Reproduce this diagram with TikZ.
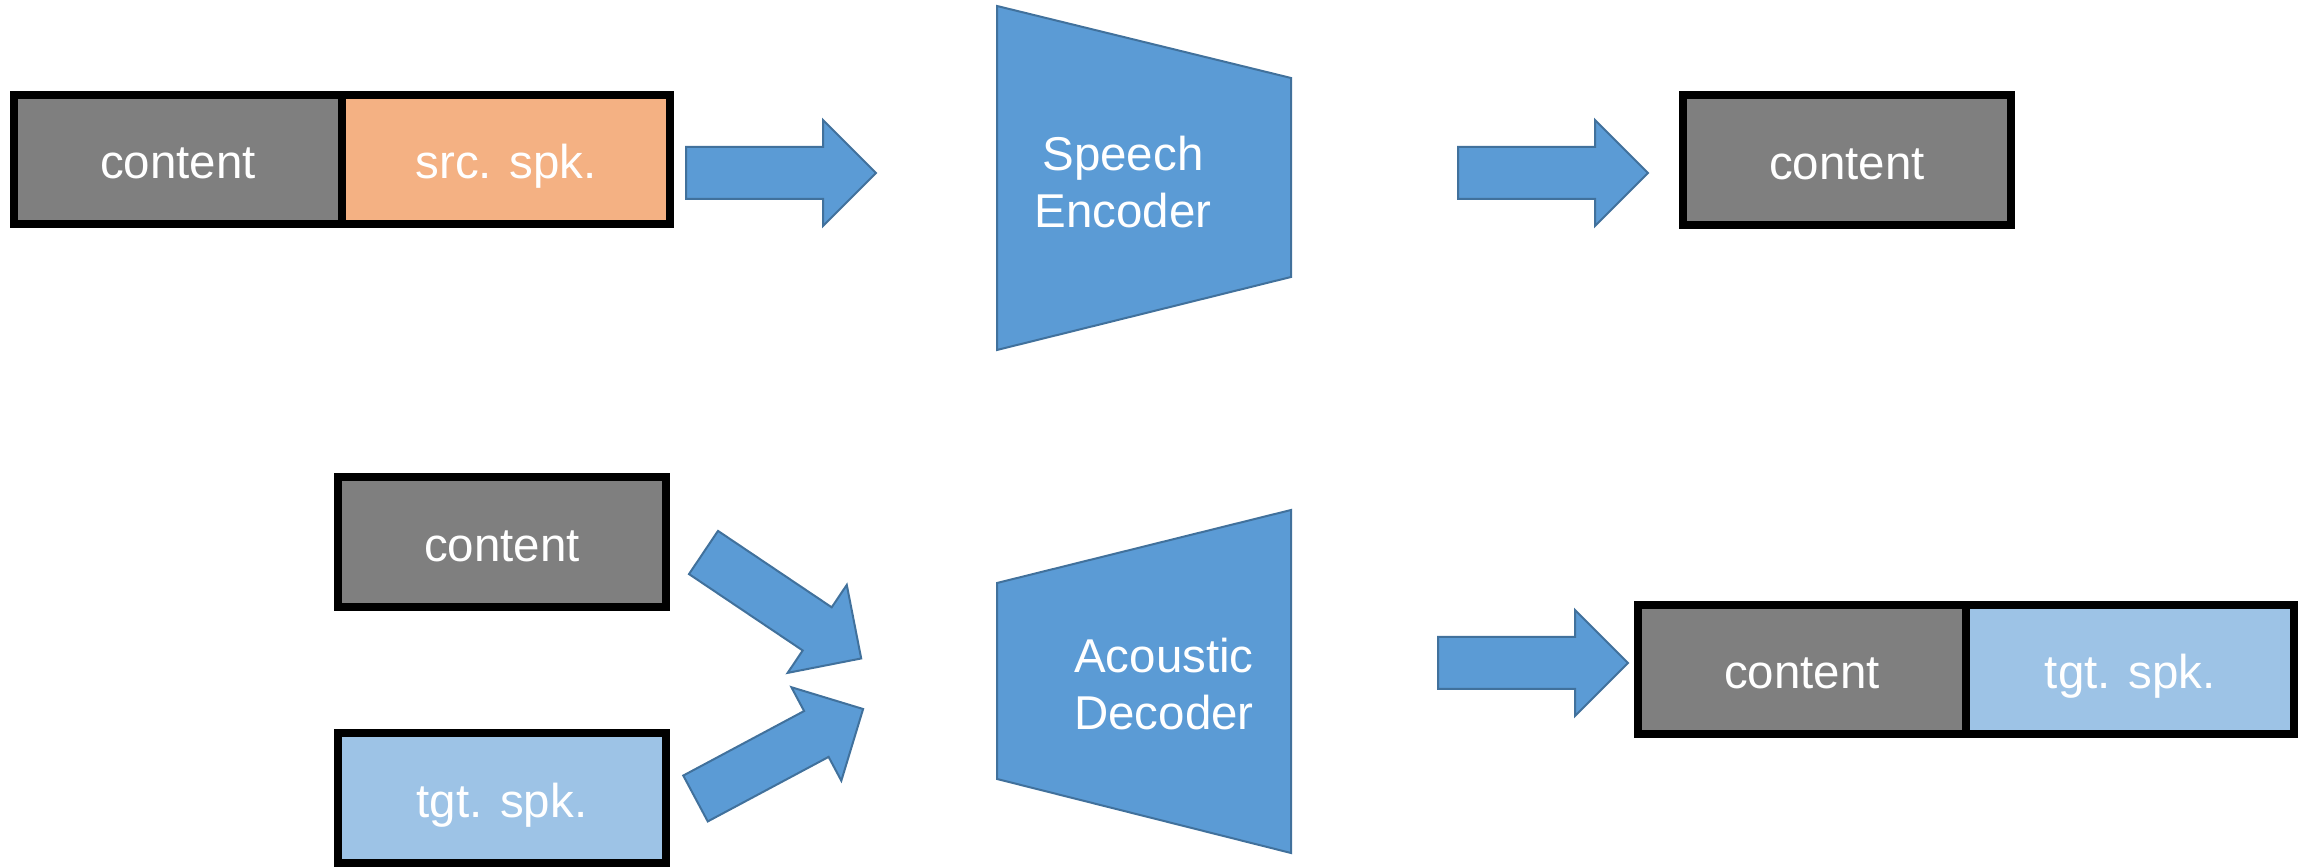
\documentclass[tikz,border=0pt]{standalone}
\usepackage{fontspec}
\setmainfont{Liberation Sans}
\usepackage{xcolor}
\usetikzlibrary{positioning}
\definecolor{cgray}{RGB}{127,127,127}
\definecolor{srcspk}{RGB}{244,177,131}
\definecolor{tgtspk}{RGB}{157,195,230}
\definecolor{netblue}{RGB}{91,155,213}
\definecolor{netline}{RGB}{65,113,156}
\tikzset{
  cell/.style       ={rectangle, draw=black, line width=0.08cm, outer sep=0pt,
                      minimum width=3.28cm, minimum height=1.29cm, inner sep=0pt,
                      text height=11pt, text depth=0pt,
                      text=white, font=\fontsize{13.5}{16}\selectfont},
  contentcell/.style={cell, fill=cgray},
  srccell/.style    ={cell, fill=srcspk},
  tgtcell/.style    ={cell, fill=tgtspk},
  netshape/.style   ={fill=netblue, draw=netline, line width=0.02cm, line join=miter},
  netlabel/.style   ={text=white, align=center, inner sep=0pt,
                      font=\fontsize{13.5}{16}\selectfont},
  blockarrow/.pic   ={\draw[netshape] (0,-26) -- (137,-26) -- (137,-53) -- (190,0)
                      -- (137,53) -- (137,26) -- (0,26) -- cycle;},
}

\begin{document}
\begin{tikzpicture}[x=0.01cm, y=-0.01cm]
\useasboundingbox (0,0) rectangle (2310,868);
% source utterance
\node[contentcell] (srccontent) at (178,159.5) {content};
\node[srccell, right=0pt of srccontent] (srcspeaker) {src. spk.};
\pic (encin) at (686,173) {blockarrow};
% speech encoder
\draw[netshape] (997,6) -- (1291,78) -- (1291,277) -- (997,350) -- cycle;
\node[netlabel] (encoder) at (1123,182) {Speech\\Encoder};
\pic (encout) at (1458,173) {blockarrow};
\node[contentcell] (enccontent) at (1847,160) {content};
% inputs of the decoder
\node[contentcell] (deccontent) at (502,542) {content};
\node[tgtcell] (decspeaker) at (502,798) {tgt. spk.};
\pic[rotate=-33.9] (decinA) at (703.5,552.5) {blockarrow};
\pic[rotate=28.1] (decinB) at (695.5,798.5) {blockarrow};
% acoustic decoder
\draw[netshape] (997,583) -- (1291,510) -- (1291,853) -- (997,779) -- cycle;
\node[netlabel] (decoder) at (1164,684) {Acoustic\\Decoder};
\pic (decout) at (1438,663) {blockarrow};
% converted utterance
\node[contentcell] (tgtcontent) at (1802,669.5) {content};
\node[tgtcell, right=0pt of tgtcontent] (tgtspeaker) {tgt. spk.};
\end{tikzpicture}
\end{document}
